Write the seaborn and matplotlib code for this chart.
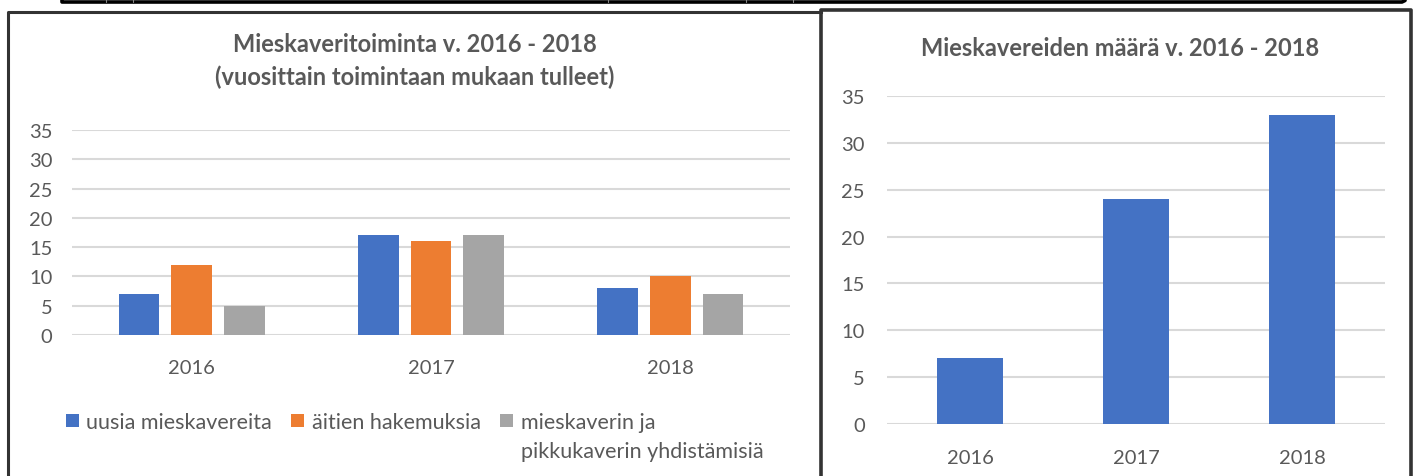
"""Mieskaveritoiminta 2016-2018: two bar charts side by side."""

import matplotlib.pyplot as plt
import pandas as pd
import seaborn as sns
from matplotlib.lines import Line2D
from matplotlib.patches import Patch

YEARS = ["2016", "2017", "2018"]
SERIES = ["uusia mieskavereita", "äitien hakemuksia", "mieskaverin ja"]
SERIES_WRAP = "pikkukaverin yhdistämisiä"
NEW_FRIENDS = [7, 17, 8]
MOTHER_APPS = [12, 16, 10]
MATCHES = [5, 17, 7]
TOTAL_FRIENDS = [7, 24, 33]
Y_TICKS = [0, 5, 10, 15, 20, 25, 30, 35]

TITLE_LEFT = "Mieskaveritoiminta v. 2016 - 2018\n(vuosittain toimintaan mukaan tulleet)"
TITLE_RIGHT = "Mieskavereiden määrä v. 2016 - 2018"

COLORS = ["#4472C4", "#ED7D31", "#A5A5A5"]
TEXT = "#595959"
GRID = "#D9D9D9"

W, H = 1418, 477

sns.set_theme(style="white")
plt.rcParams["font.family"] = ["Lato", "DejaVu Sans"]

fig = plt.figure(figsize=(W / 100, H / 100), dpi=100)


def px_axes(x0, x1, y_top, y_bot):
    return fig.add_axes([x0 / W, 1 - y_bot / H, (x1 - x0) / W, (y_bot - y_top) / H])


def style_axes(ax, ypad, xpad):
    ax.set_ylim(0, 35)
    ax.set_yticks(Y_TICKS)
    ax.yaxis.grid(True, color=GRID, linewidth=1.5)
    ax.set_axisbelow(True)
    for s in ax.spines.values():
        s.set_visible(False)
    ax.tick_params(axis="y", length=0, pad=ypad, labelsize=14.5, labelcolor=TEXT)
    ax.tick_params(axis="x", length=0, pad=xpad, labelsize=14.5, labelcolor=TEXT)
    ax.set_xlabel("")
    ax.set_ylabel("")


# left chart
df = pd.DataFrame({
    "year": YEARS * 3,
    "series": [s for s in SERIES for _ in YEARS],
    "value": NEW_FRIENDS + MOTHER_APPS + MATCHES,
})
ax1 = px_axes(72, 790, 131, 336)
sns.barplot(data=df, x="year", y="value", hue="series", palette=COLORS, saturation=1,
            width=0.66, gap=0.23, linewidth=0, legend=False, ax=ax1)
style_axes(ax1, ypad=14, xpad=17)
fig.text(415 / W, 1 - 61 / H, TITLE_LEFT, ha="center", va="center",
         fontsize=17, fontweight="bold", color=TEXT, linespacing=1.5)

handles = [Patch(facecolor=c, edgecolor="none") for c in COLORS]
leg = fig.legend(handles, SERIES, loc="center left", bbox_to_anchor=(55 / W, 1 - 423 / H),
                 ncol=3, frameon=False, fontsize=15.5, handlelength=0.6, handleheight=0.6,
                 handletextpad=0.35, columnspacing=0.9, labelcolor=TEXT, borderpad=0)

# right chart
ax2 = px_axes(887, 1385, 97, 425)
sns.barplot(x=YEARS, y=TOTAL_FRIENDS, color=COLORS[0], saturation=1, width=0.4,
            linewidth=0, ax=ax2)
style_axes(ax2, ypad=16, xpad=18)
fig.text(1120 / W, 1 - 48 / H, TITLE_RIGHT, ha="center", va="center",
         fontsize=17, fontweight="bold", color=TEXT)

# wrapped second line of the third legend label
fig.canvas.draw()
bb = leg.get_texts()[2].get_window_extent()
fig.text(bb.x0 / W, (bb.y0 + bb.y1) / 2 / H - 29 / H, SERIES_WRAP, ha="left", va="center",
         fontsize=15.5, color=TEXT)

# panel frames and the table edge above them
frame = dict(color="#333333", linewidth=2.2, transform=fig.transFigure, solid_capstyle="projecting")


def fline(xs, ys, **kw):
    fig.add_artist(Line2D([x / W for x in xs], [1 - y / H for y in ys], **kw))


fline([8, 8, 821], [477, 12.5, 12.5], **frame)
fline([821, 821, 1411, 1411], [477, 11, 11, 477], **dict(frame, linewidth=2.6))
edge = dict(color="black", linewidth=2.6, transform=fig.transFigure)
fline([62, 62, 1402, 1405, 1405], [0, 3, 3, 1.5, 0], **edge)
for x in [106, 133, 608, 746, 793]:
    fline([x, x], [0, 3], color="#888888", linewidth=0.8, transform=fig.transFigure)

fig.savefig("out.png", dpi=100)
